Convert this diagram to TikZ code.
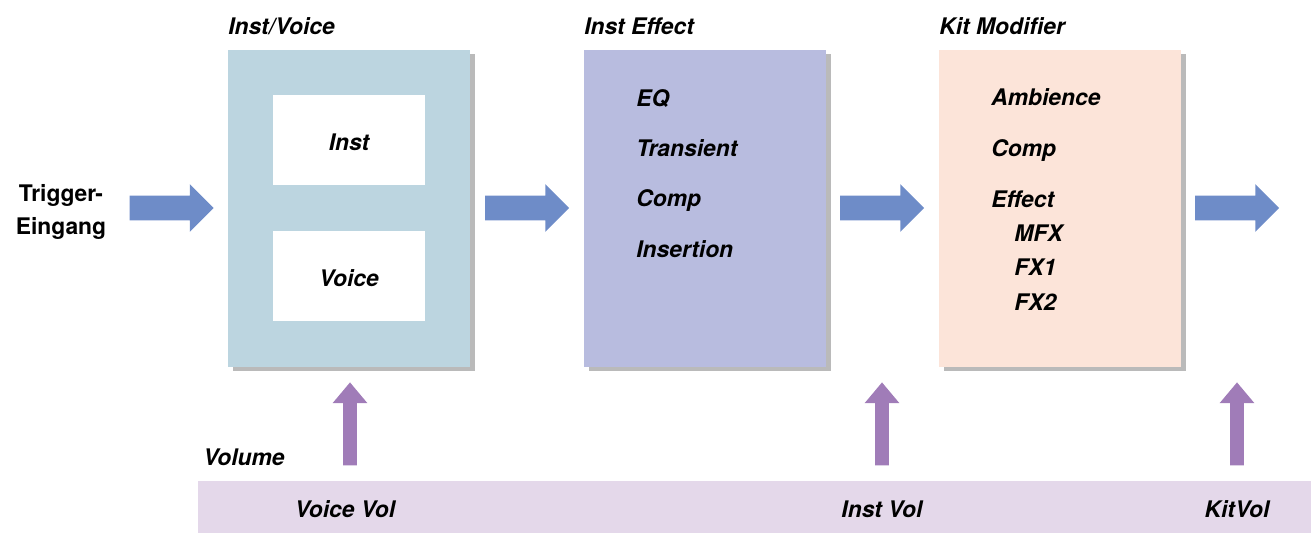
\documentclass[tikz,border=0pt]{standalone}
\usepackage{fontspec}
\setmainfont{TeX Gyre Heros}
\usetikzlibrary{shapes.arrows,shadows}

\definecolor{flowblue}{RGB}{110,140,200}
\definecolor{volpurple}{RGB}{160,124,184}
\definecolor{ivblue}{RGB}{188,213,224}
\definecolor{fxlilac}{RGB}{184,188,223}
\definecolor{kitpeach}{RGB}{252,228,217}
\definecolor{barlilac}{RGB}{228,216,234}

\tikzset{
	lbl/.style={font=\fontsize{13}{16}\selectfont\bfseries\itshape, inner sep=0pt},
	stage/.style={minimum width=4.84cm, minimum height=6.34cm, inner sep=0pt,
		drop shadow={shadow xshift=0.09cm, shadow yshift=-0.09cm, fill=black!60, opacity=0.45}},
	slot/.style={fill=white, minimum width=3.04cm, minimum height=1.8cm, inner sep=0pt},
	flowarrow/.style={single arrow, fill=flowblue, inner sep=0.24cm, minimum height=1.68cm,
		single arrow head extend=0.23cm, single arrow tip angle=90},
	volarrow/.style={single arrow, fill=volpurple, inner sep=0.13cm, minimum height=1.66cm,
		single arrow head extend=0.21cm, single arrow tip angle=80, shape border rotate=90}
}

\begin{document}
\begin{tikzpicture}
	\useasboundingbox (0,0) rectangle (26.22,10.66);
	% stages
	\node (iv)[stage, fill=ivblue] at (6.98,6.49){};
	\node (fx)[stage, fill=fxlilac] at (14.10,6.49){};
	\node (kit)[stage, fill=kitpeach] at (21.20,6.49){};
	\node (inst)[slot] at (6.98,7.86){};
	\node (voice)[slot] at (6.98,5.14){};
	\node (volbar)[fill=barlilac, minimum width=22.26cm, minimum height=1.04cm, inner sep=0pt] at (15.09,0.52){};
	% titles
	\node (ivtitle)[lbl, anchor=base west] at (4.56,9.96){Inst/Voice};
	\node (fxtitle)[lbl, anchor=base west] at (11.68,9.96){Inst Effect};
	\node (kittitle)[lbl, anchor=base west] at (18.78,9.96){Kit Modifier};
	\node (insttxt)[lbl, anchor=base] at (6.98,7.64){Inst};
	\node (voicetxt)[lbl, anchor=base] at (6.98,4.92){Voice};
	\node (trig)[lbl, font=\fontsize{13}{18.7}\selectfont\bfseries, align=center] at (1.22,6.42){Trigger-\\Eingang};
	% inst effect
	\node (eq)[lbl, anchor=base west] at (12.72,8.53){EQ};
	\node (trans)[lbl, anchor=base west] at (12.72,7.53){Transient};
	\node (fxcomp)[lbl, anchor=base west] at (12.72,6.53){Comp};
	\node (ins)[lbl, anchor=base west] at (12.72,5.51){Insertion};
	% kit modifier
	\node (amb)[lbl, anchor=base west] at (19.82,8.55){Ambience};
	\node (kitcomp)[lbl, anchor=base west] at (19.82,7.53){Comp};
	\node (eff)[lbl, anchor=base west] at (19.82,6.51){Effect};
	\node (mfx)[lbl, anchor=base west] at (20.28,5.83){MFX};
	\node (fxone)[lbl, anchor=base west] at (20.28,5.15){FX1};
	\node (fxtwo)[lbl, anchor=base west] at (20.28,4.45){FX2};
	% volume
	\node (vol)[lbl, anchor=base west] at (4.06,1.34){Volume};
	\node (vvol)[lbl, anchor=base] at (6.90,0.30){Voice Vol};
	\node (ivol)[lbl, anchor=base] at (17.64,0.30){Inst Vol};
	\node (kvol)[lbl, anchor=base] at (24.74,0.30){KitVol};
	% arrows
	\foreach \x/\n in{3.31/a,10.42/b,17.52/c,24.62/d}{
		\node (flow\n)[flowarrow] at (\x,6.50){};
	}
	\foreach \x/\n in{7.00/a,17.64/b,24.74/c}{
		\node (up\n)[volarrow] at (\x,2.10){};
	}
\end{tikzpicture}
\end{document}
